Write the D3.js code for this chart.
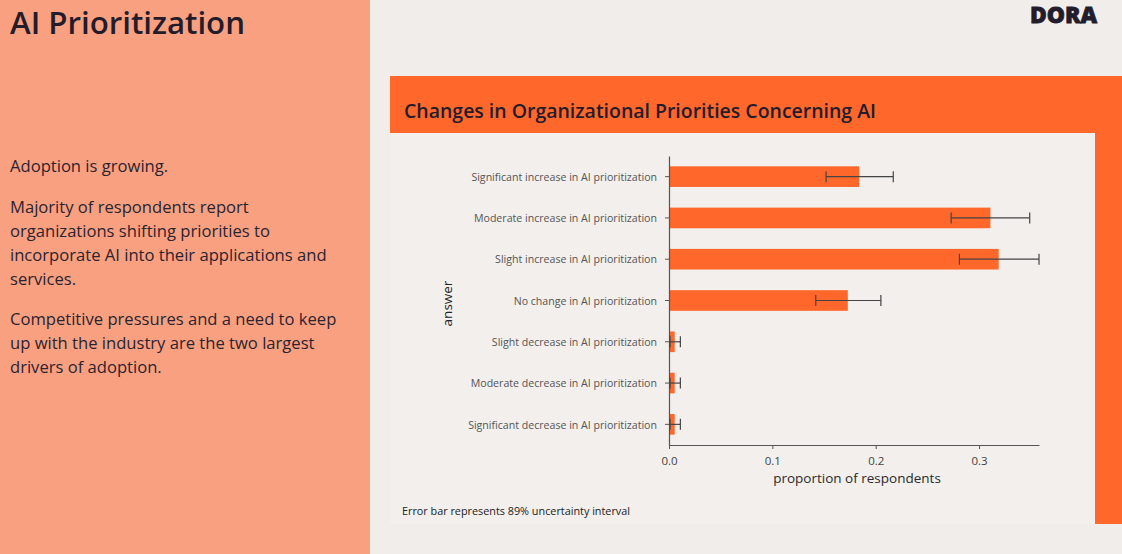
<!DOCTYPE html>
<html>
<head>
<meta charset="utf-8">
<script src="https://cdn.jsdelivr.net/npm/d3@7/dist/d3.min.js"></script>
<style>
  html, body { margin: 0; padding: 0; background: #F1EDEB; }
  svg { display: block; }
  text { font-family: "Open Sans", "Noto Sans", sans-serif; }
</style>
</head>
<body>
<svg id="chart" width="1122" height="554"></svg>
<script>
const categories = [
  "Significant increase in AI prioritization",
  "Moderate increase in AI prioritization",
  "Slight increase in AI prioritization",
  "No change in AI prioritization",
  "Slight decrease in AI prioritization",
  "Moderate decrease in AI prioritization",
  "Significant decrease in AI prioritization"
];
const values = [0.184, 0.311, 0.319, 0.173, 0.0055, 0.0055, 0.0055];
const lower  = [0.152, 0.273, 0.281, 0.142, 0.001, 0.001, 0.001];
const upper  = [0.217, 0.349, 0.358, 0.205, 0.011, 0.011, 0.011];
const xTicks = [0, 0.1, 0.2, 0.3];

const pageTitle = "AI Prioritization";
const paragraphs = [
  ["Adoption is growing."],
  ["Majority of respondents report", "organizations shifting priorities to", "incorporate AI into their applications and", "services."],
  ["Competitive pressures and a need to keep", "up with the industry are the two largest", "drivers of adoption."]
];
const chartTitle = "Changes in Organizational Priorities Concerning AI";
const footnote = "Error bar represents 89% uncertainty interval";

const svg = d3.select("#chart");
const dark = "#221C2B";
const orange = "#FF672B";

// backgrounds
svg.append("rect").attr("x", 0).attr("y", 0).attr("width", 1122).attr("height", 554).attr("fill", "#F1EDEB");
svg.append("rect").attr("x", 0).attr("y", 0).attr("width", 370).attr("height", 554).attr("fill", "#F9A080");
svg.append("rect").attr("x", 390).attr("y", 76).attr("width", 732).attr("height", 57).attr("fill", orange);
svg.append("rect").attr("x", 1095).attr("y", 133).attr("width", 27).attr("height", 391).attr("fill", orange);
svg.append("rect").attr("x", 390).attr("y", 133).attr("width", 705).attr("height", 391).attr("fill", "#F2EFEC");

// left panel text
svg.append("text").attr("x", 10).attr("y", 34).attr("font-size", 31).attr("font-weight", 600)
  .attr("fill", dark).attr("textLength", 235).attr("lengthAdjust", "spacingAndGlyphs").text(pageTitle);

const paraStarts = [172, 213, 325];
paragraphs.forEach((lines, pi) => {
  lines.forEach((ln, li) => {
    svg.append("text").attr("x", 10).attr("y", paraStarts[pi] + li * 24)
      .attr("font-size", 16.6).attr("fill", "#2a2430").text(ln);
  });
});

// DORA logo
svg.append("text").attr("x", 1097).attr("y", 23).attr("text-anchor", "end")
  .attr("font-size", 22).attr("font-weight", 800).attr("fill", dark)
  .attr("stroke", dark).attr("stroke-width", 0.8)
  .attr("textLength", 67).attr("lengthAdjust", "spacingAndGlyphs").text("DORA");

// chart title
svg.append("text").attr("x", 404).attr("y", 118).attr("font-size", 20.5).attr("font-weight", 600)
  .attr("fill", dark).attr("textLength", 472).attr("lengthAdjust", "spacingAndGlyphs").text(chartTitle);

// scales
const x = d3.scaleLinear().domain([0, 0.358]).range([669, 1039]);
const y = d3.scaleBand().domain(categories).range([156, 445]).paddingInner(0.5).paddingOuter(0.25);

const axisColor = "#555";

// bars
svg.append("g").selectAll("rect").data(categories).join("rect")
  .attr("x", x(0))
  .attr("y", d => y(d))
  .attr("width", (d, i) => x(values[i]) - x(0))
  .attr("height", y.bandwidth())
  .attr("fill", orange);

// x axis
const xAxis = svg.append("g").attr("transform", "translate(0,445)")
  .call(d3.axisBottom(x).tickValues(xTicks).tickFormat(d3.format(".1f")).tickSize(4).tickSizeOuter(0));
xAxis.select(".domain").attr("stroke", axisColor).attr("stroke-width", 1.2);
xAxis.selectAll(".tick line").attr("stroke", axisColor);
xAxis.selectAll(".tick text").attr("font-size", 11.5).attr("fill", "#444").attr("dy", "1.1em")
  .attr("font-family", "Open Sans, sans-serif");

// y axis
const yAxis = svg.append("g").attr("transform", "translate(669,0)")
  .call(d3.axisLeft(y).tickSize(4).tickSizeOuter(0));
yAxis.select(".domain").attr("stroke", axisColor).attr("stroke-width", 1.2);
yAxis.selectAll(".tick line").attr("stroke", axisColor);
yAxis.selectAll(".tick text").attr("font-size", 10.6).attr("fill", "#555").attr("x", -12).attr("dy", "0.4em")
  .attr("font-family", "Open Sans, sans-serif");

// error bars
const eb = svg.append("g").attr("stroke", "#444").attr("stroke-width", 1.2).attr("fill", "none");
categories.forEach((c, i) => {
  const cy = y(c) + y.bandwidth() / 2;
  eb.append("line").attr("x1", x(lower[i])).attr("x2", x(upper[i])).attr("y1", cy).attr("y2", cy);
  eb.append("line").attr("x1", x(lower[i])).attr("x2", x(lower[i])).attr("y1", cy - 5.5).attr("y2", cy + 5.5);
  eb.append("line").attr("x1", x(upper[i])).attr("x2", x(upper[i])).attr("y1", cy - 5.5).attr("y2", cy + 5.5);
});

// axis titles
svg.append("text").attr("x", 857).attr("y", 483).attr("text-anchor", "middle")
  .attr("font-size", 13.5).attr("fill", "#2a2a2a").text("proportion of respondents");
svg.append("text").attr("transform", "translate(452,303.5) rotate(-90)").attr("text-anchor", "middle")
  .attr("font-size", 13.5).attr("fill", "#222").text("answer");

// footnote
svg.append("text").attr("x", 402).attr("y", 515).attr("font-size", 11).attr("fill", "#222")
  .attr("textLength", 228).attr("lengthAdjust", "spacingAndGlyphs").text(footnote);
</script>
</body>
</html>
